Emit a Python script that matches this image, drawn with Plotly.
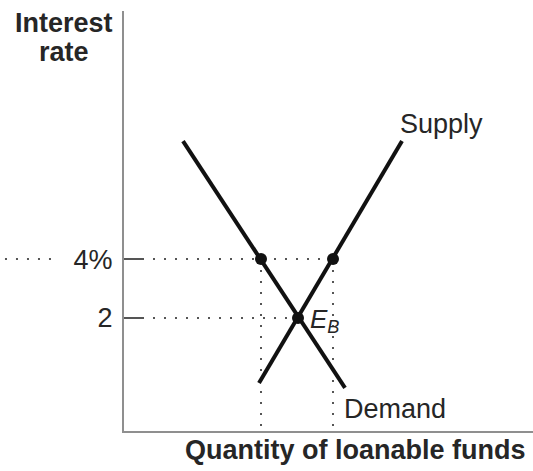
import plotly.graph_objects as go

# ---- data ----
supply_q = [13.5, 27.8]
supply_r = [-0.2, 8.0]
demand_q = [5.9, 22.1]
demand_r = [8.0, -0.37]
point_q = [13.7, 20.9]          # demand and supply at 4%
point_r = [4, 4]
eq_q = 17.4                     # equilibrium E_B
eq_r = 2
tick_vals = [2, 4]
tick_text = ["2", "4%"]

x_range = [0, 40.9]
y_range = [-1.83, 12.41]

FONT = "Liberation Sans, Arial, sans-serif"
TXT = "#262626"
AX = "#8f8f8f"
DOT = "#555555"

fig = go.Figure()

fig.add_trace(go.Scatter(x=supply_q, y=supply_r, mode="lines",
                         line=dict(color="#111111", width=4), hoverinfo="skip"))
fig.add_trace(go.Scatter(x=demand_q, y=demand_r, mode="lines",
                         line=dict(color="#111111", width=4), hoverinfo="skip"))
fig.add_trace(go.Scatter(x=point_q + [eq_q], y=point_r + [eq_r], mode="markers",
                         marker=dict(color="#111111", size=12), hoverinfo="skip"))

dotted = dict(color=DOT, width=2, dash="2px,9px")

# horizontal guides
fig.add_shape(type="line", xref="x", yref="y", x0=1.8, x1=max(point_q), y0=4, y1=4,
              line=dotted, layer="below")
fig.add_shape(type="line", xref="x", yref="y", x0=1.8, x1=eq_q, y0=eq_r, y1=eq_r,
              line=dotted, layer="below")
# left extension outside the axis at 4%
fig.add_shape(type="line", xref="paper", yref="y", x0=-0.291, x1=-0.166, y0=4, y1=4,
              line=dotted, layer="below")
# vertical guides
for q in point_q:
    fig.add_shape(type="line", xref="x", yref="y", x0=q, x1=q, y0=4, y1=y_range[0],
                  line=dotted, layer="below")

# labels
fig.add_annotation(x=supply_q[1], y=supply_r[1], text="Supply", showarrow=False,
                   xanchor="left", yanchor="middle", xshift=-4, yshift=17,
                   font=dict(family=FONT, size=27, color=TXT))
fig.add_annotation(x=demand_q[1], y=demand_r[1], text="Demand", showarrow=False,
                   xanchor="left", yanchor="middle", xshift=-3, yshift=-21,
                   font=dict(family=FONT, size=27, color=TXT))
fig.add_annotation(x=eq_q, y=eq_r, text="<i>E<sub>B</sub></i>", showarrow=False,
                   xanchor="left", yanchor="middle", xshift=10, yshift=-2,
                   font=dict(family=FONT, size=26, color=TXT))
fig.add_annotation(xref="paper", yref="paper", x=-0.147, y=(431 - 23) / 420,
                   text="<b>Interest</b>", showarrow=False,
                   xanchor="center", yanchor="middle",
                   font=dict(family=FONT, size=27, color=TXT))
fig.add_annotation(xref="paper", yref="paper", x=-0.147, y=(431 - 52) / 420,
                   text="<b>rate</b>", showarrow=False,
                   xanchor="center", yanchor="middle",
                   font=dict(family=FONT, size=27, color=TXT))
fig.add_annotation(xref="paper", yref="paper", x=0.567, y=-0.045,
                   text="<b>Quantity of loanable funds</b>", showarrow=False,
                   xanchor="center", yanchor="middle",
                   font=dict(family=FONT, size=27, color=TXT))

fig.update_layout(
    width=533, height=471,
    margin=dict(l=124, r=0, t=11, b=40),
    paper_bgcolor="white", plot_bgcolor="white",
    showlegend=False,
    xaxis=dict(range=x_range, showgrid=False, zeroline=False, showticklabels=False,
               ticks="", showline=True, linecolor=AX, linewidth=2, fixedrange=True),
    yaxis=dict(range=y_range, showgrid=False, zeroline=False,
               tickmode="array", tickvals=tick_vals, ticktext=tick_text,
               ticks="inside", ticklen=18, tickwidth=1.5, tickcolor=DOT,
               ticklabelstandoff=4,
               tickfont=dict(family=FONT, size=27, color=TXT),
               showline=True, linecolor=AX, linewidth=2, fixedrange=True),
)

fig.write_html("out.html", config={"displayModeBar": False},
               post_script="document.body.style.margin='0';document.body.style.padding='0';")
